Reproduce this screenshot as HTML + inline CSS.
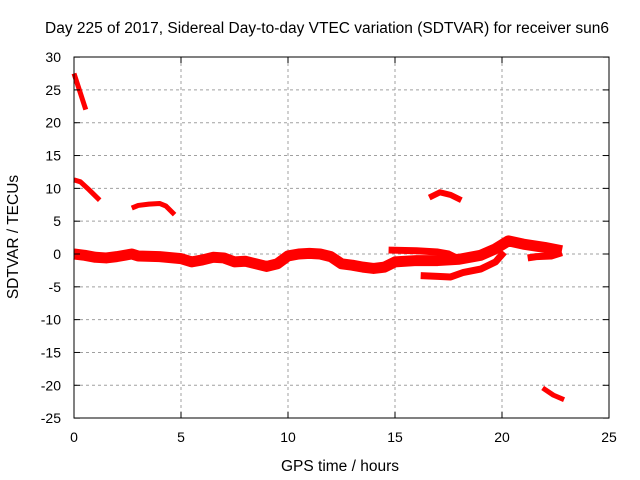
<!DOCTYPE html>
<html><head><meta charset="utf-8"><style>
body{margin:0;background:#fff}
svg{display:block;font-family:"Liberation Sans",sans-serif;font-size:14px}
.big{font-size:15.5px}
</style></head><body>
<svg id="chart" width="640" height="480">
<rect width="640" height="480" fill="#fff"/>
<g id="grid"></g>
<g id="series"></g>
<rect x="74" y="57" width="535" height="361" fill="none" stroke="#000" stroke-width="1"/>
<g id="ticks"></g>
<text class="big" x="327" y="33" text-anchor="middle">Day 225 of 2017, Sidereal Day-to-day VTEC variation (SDTVAR) for receiver sun6</text>
<text class="big" x="340" y="471" text-anchor="middle">GPS time / hours</text>
<text class="big" transform="translate(18,237) rotate(-90)" text-anchor="middle">SDTVAR / TECUs</text>
</svg>
<script>
const xTicks=[0,5,10,15,20,25];
const yTicks=[30,25,20,15,10,5,0,-5,-10,-15,-20,-25];
const segA=[[0,27.5],[0.2,25.5],[0.55,22]];
const segB=[[0,11.3],[0.3,11],[0.7,9.8],[1.2,8.2]];
const segC=[[2.7,7],[3.0,7.4],[3.5,7.6],[4.0,7.7],[4.3,7.3],[4.7,6]];
const segMain=[[0,0],[0.5,-0.2],[1,-0.5],[1.5,-0.6],[2,-0.4],[2.7,0],[3,-0.3],[4,-0.4],[5,-0.7],[5.5,-1.2],[6,-0.9],[6.5,-0.5],[7,-0.6],[7.5,-1.2],[8,-1.1],[8.5,-1.5],[9,-1.9],[9.5,-1.5],[10,-0.3],[10.5,0],[11,0.1],[11.5,0],[12,-0.4],[12.5,-1.5],[13,-1.7],[13.5,-2],[14,-2.2],[14.5,-2],[15,-1.2],[16,-1],[17,-1],[18,-0.8],[19,-0.2],[19.7,0.8],[20.3,2],[21,1.5],[22,1],[22.8,0.5]];
const segUpper=[[14.7,0.6],[16,0.5],[17,0.3],[17.5,0],[18,-0.8]];
const segLower=[[16.2,-3.3],[17,-3.4],[17.6,-3.5],[18.2,-2.8],[19,-2.3],[19.7,-1.2],[20.1,0.3]];
const segShort=[[21.2,-0.6],[21.6,-0.4],[22.3,-0.3],[22.8,0.2]];
const segPeak=[[16.6,8.6],[17.1,9.4],[17.6,9],[18.1,8.2]];
const segBottom=[[21.9,-20.4],[22.4,-21.5],[22.9,-22.2]];
const segments=[[segA,5],[segB,5],[segC,5],[segMain,11],[segUpper,7],[segLower,7],[segShort,7],[segPeak,6],[segBottom,5]];
const X=v=>74+v*(535/25), Y=v=>254-v*(361/55);
const NS="http://www.w3.org/2000/svg";
const grid=document.getElementById('grid'),ticks=document.getElementById('ticks'),ser=document.getElementById('series');
function mk(t,a){const e=document.createElementNS(NS,t);for(const k in a)e.setAttribute(k,a[k]);return e;}
xTicks.forEach(v=>{const x=X(v);
 if(v>0&&v<25){const g=mk('line',{x1:x,x2:x,y1:57,y2:418,stroke:'#a0a0a0','stroke-dasharray':'3,3'});
 
 grid.appendChild(g);}
 const t=mk('line',{x1:x,x2:x,y1:418,y2:412,stroke:'#000'});
 
 ticks.appendChild(t);
 const t2=mk('line',{x1:x,x2:x,y1:57,y2:63,stroke:'#000'});
 
 ticks.appendChild(t2);
 const l=mk('text',{x:x,y:442,'text-anchor':'middle'});l.textContent=v;
 
 ticks.appendChild(l);});
yTicks.forEach(v=>{const y=Y(v);
 if(v<30&&v>-25){const g=mk('line',{x1:74,x2:609,y1:y,y2:y,stroke:'#a0a0a0','stroke-dasharray':'3,3'});
 
 grid.appendChild(g);}
 const t=mk('line',{x1:74,x2:80,y1:y,y2:y,stroke:'#000'});
 
 ticks.appendChild(t);
 const t2=mk('line',{x1:603,x2:609,y1:y,y2:y,stroke:'#000'});
 
 ticks.appendChild(t2);
 const l=mk('text',{x:61,y:y+5,'text-anchor':'end'});l.textContent=v;
 
 ticks.appendChild(l);});
segments.forEach(([s,w])=>{const p=mk('polyline',{points:s.map(d=>X(d[0])+','+Y(d[1])).join(' '),fill:'none',stroke:'#f00','stroke-width':w,'stroke-linejoin':'round'});
 
 ser.appendChild(p);});
</script>
</body></html>
